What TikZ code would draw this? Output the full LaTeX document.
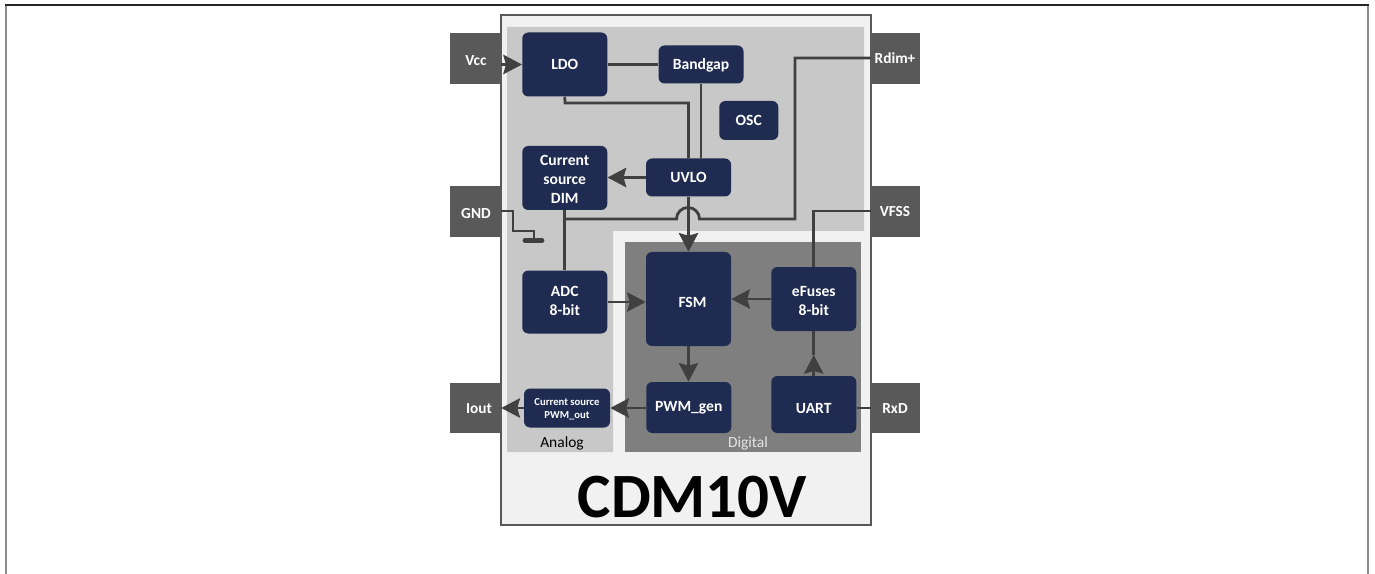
\documentclass[tikz,border=0pt]{standalone}
\usepackage{fontspec}
\setmainfont{Carlito}
\usetikzlibrary{arrows.meta,calc}
\definecolor{navy}{HTML}{1F2B50}
\definecolor{pingray}{HTML}{595959}
\definecolor{wire}{HTML}{404040}
\definecolor{chipfill}{HTML}{F1F1F1}
\definecolor{anafill}{HTML}{C8C8C8}
\definecolor{digfill}{HTML}{7F7F7F}
\newsavebox{\shiftbox}
% \shifted{x}{down}{text}: moves the text by x and down without changing its box
\newcommand{\shifted}[3]{\sbox{\shiftbox}{\begin{tabular}{@{}c@{}}#3\end{tabular}}%
  \hspace*{#1}\raisebox{-#2}[\ht\shiftbox][\dp\shiftbox]{\usebox{\shiftbox}}\hspace*{-#1}}
\tikzset{
  x=0.75pt,y=-0.75pt,
  blk/.style n args={2}{fill=navy,text=white,rounded corners=4.5pt,inner sep=0pt,align=center,
    minimum width=#1*0.75pt,minimum height=#2*0.75pt,
    font=\fontsize{11.7}{14.25}\selectfont\bfseries},
  pin/.style={fill=pingray,inner sep=0pt,minimum width=#1*0.75pt,minimum height=38pt},
  pinlabel/.style={text=white,inner sep=0pt,font=\fontsize{11.5}{14}\selectfont\bfseries},
  wireline/.style={draw=wire,line width=2.1pt},
  arr/.style={wireline,-{Stealth[length=14pt,width=14.5pt,inset=2pt]}},
}
\begin{document}
\begin{tikzpicture}
\useasboundingbox (0,0) rectangle (1375,574);
% outer frame
\draw[draw=gray!90,line width=1.5pt] (6,574) -- (6,5);
\draw[draw=gray!90,line width=1.5pt] (1368,574) -- (1368,5);
\draw[draw=black!85,line width=1.2pt] (5,5) -- (1369,5);
% chip and regions
\draw[fill=chipfill,draw=pingray,line width=1.5pt] (501,15) rectangle (871,525);
\fill[anafill] (507,27) -- (864,27) -- (864,231) -- (613,231) -- (613,452) -- (507,452) -- cycle;
\fill[digfill] (625,242) rectangle (861,452);
% pins
\node[pin=51] (vcc)  at (475.5,58.5) {};
\node[pin=51] (gnd)  at (475.5,211.5) {};
\node[pin=51] (iout) at (475.5,408) {};
\node[pin=49] (rdim) at (895.5,58.5) {};
\node[pin=49] (vfss) at (895.5,211.5) {};
\node[pin=49] (rxd)  at (895.5,408) {};
% blocks
\node[blk={85}{64}] (ldo) at (564.75,64.5) {\shifted{0pt}{0.8pt}{LDO}};
\node[blk={85}{38}] (bandgap) at (701,64.5) {\shifted{0pt}{0.6pt}{Bandgap}};
\node[blk={59}{39}] (osc) at (748.75,120.5) {OSC};
\node[blk={85}{64}] (dim) at (564.75,178) {\shifted{0pt}{2.2pt}{Current\\source\\DIM}};
\node[blk={85}{38}] (uvlo) at (688.5,177.5) {UVLO};
\node[blk={85}{63}] (adc) at (564.75,302) {\shifted{0pt}{0.3pt}{ADC\\8-bit}};
\node[blk={85}{94}] (fsm) at (688.5,299) {\shifted{3pt}{3.6pt}{FSM}};
\node[blk={85}{64}] (efuses) at (813.75,299) {\shifted{0pt}{2.4pt}{eFuses\\8-bit}};
\node[blk={85}{51}] (pwmgen) at (688.75,407.5) {PWM\_gen};
\node[blk={85}{57}] (uart) at (813.75,404.5) {\shifted{0pt}{3.6pt}{UART}};
\node[blk={86}{39},font=\fontsize{8}{9.8}\selectfont\bfseries] (pwmout) at (567,408) {\shifted{0pt}{0.8pt}{Current source\\PWM\_out}};
% junction coordinates
\coordinate (vccin) at (vcc.east |- ldo.west);
\coordinate (ldoturn) at (565,103);
\coordinate (uvlotap) at (688.5,103);
\coordinate (rdimturn) at (795,58);
\coordinate (rdimdown) at (795,219);
\coordinate (hopright) at (699.5,219);
\coordinate (dimtap) at (564.75,219);
\coordinate (gndA) at (513,211);
\coordinate (gndB) at (513,231);
\coordinate (gndC) at (534,231);
\coordinate (gndD) at (534,240);
\coordinate (barL) at (525,240.5);
\coordinate (barR) at (542,240.5);
\coordinate (vfssturn) at (813.75,211);
\coordinate (uartmid) at (813.75,355);
% connectors
\draw[arr] (vccin) -- (ldo.west);
\draw[wireline] (ldo.east) -- (bandgap.west);
\draw[wireline] (ldo.south) -- (ldoturn) -- (uvlotap) -- (uvlo.north);
\draw[wireline] (bandgap.south) -- (bandgap.south |- uvlo.north);
\draw[arr] (uvlo.west) -- (uvlo.west -| dim.east);
\draw[arr] (uvlo.south) -- (fsm.north);
\draw[wireline] (dim.south) -- (adc.north);
\draw[wireline] (rdim.west |- rdimturn) -- (rdimturn) -- (rdimdown) -- (hopright)
   arc[start angle=0,end angle=-180,radius=11.5] -- (dimtap);
\draw[wireline] (gnd.east |- gndA) -- (gndA) -- (gndB) -- (gndC) -- (gndD);
\draw[draw=wire,line width=3.6pt,line cap=round] (barL) -- (barR);
\draw[arr] (adc.east) -- (adc.east -| fsm.west);
\draw[arr] (efuses.west) -- (efuses.west -| fsm.east);
\draw[arr] (fsm.south) -- (fsm.south |- pwmgen.north);
\draw[wireline] (vfss.west |- vfssturn) -- (vfssturn) -- (efuses.north);
\draw[wireline] (uartmid) -- (efuses.south);
\draw[arr] (uart.north) -- (uartmid);
\draw[wireline] (uart.east |- rxd.west) -- (rxd.west);
\draw[arr] (pwmgen.west |- pwmout.east) -- (pwmout.east);
\draw[arr] (pwmout.west) -- (iout.east);
% pin labels
\node[pinlabel] (tvcc) at (476,61) {Vcc};
\node[pinlabel] (tgnd) at (476,214) {GND};
\node[pinlabel] (tiout) at (479,409) {Iout};
\node[pinlabel] (trdim) at (895,58) {Rdim+};
\node[pinlabel] (tvfss) at (895,212) {VFSS};
\node[pinlabel] (trxd) at (895,409) {RxD};
% region labels and title
\node[inner sep=0pt,font=\fontsize{11.6}{13}\selectfont] (tana) at (562,443.5) {Analog};
\node[inner sep=0pt,text=white!90!black,font=\fontsize{11.6}{13}\selectfont] (tdig) at (748,443.5) {Digital};
\node[inner sep=0pt,font=\fontsize{47.3}{50}\selectfont\bfseries] (title) at (692.5,497) {CDM10V};
\end{tikzpicture}
\end{document}
